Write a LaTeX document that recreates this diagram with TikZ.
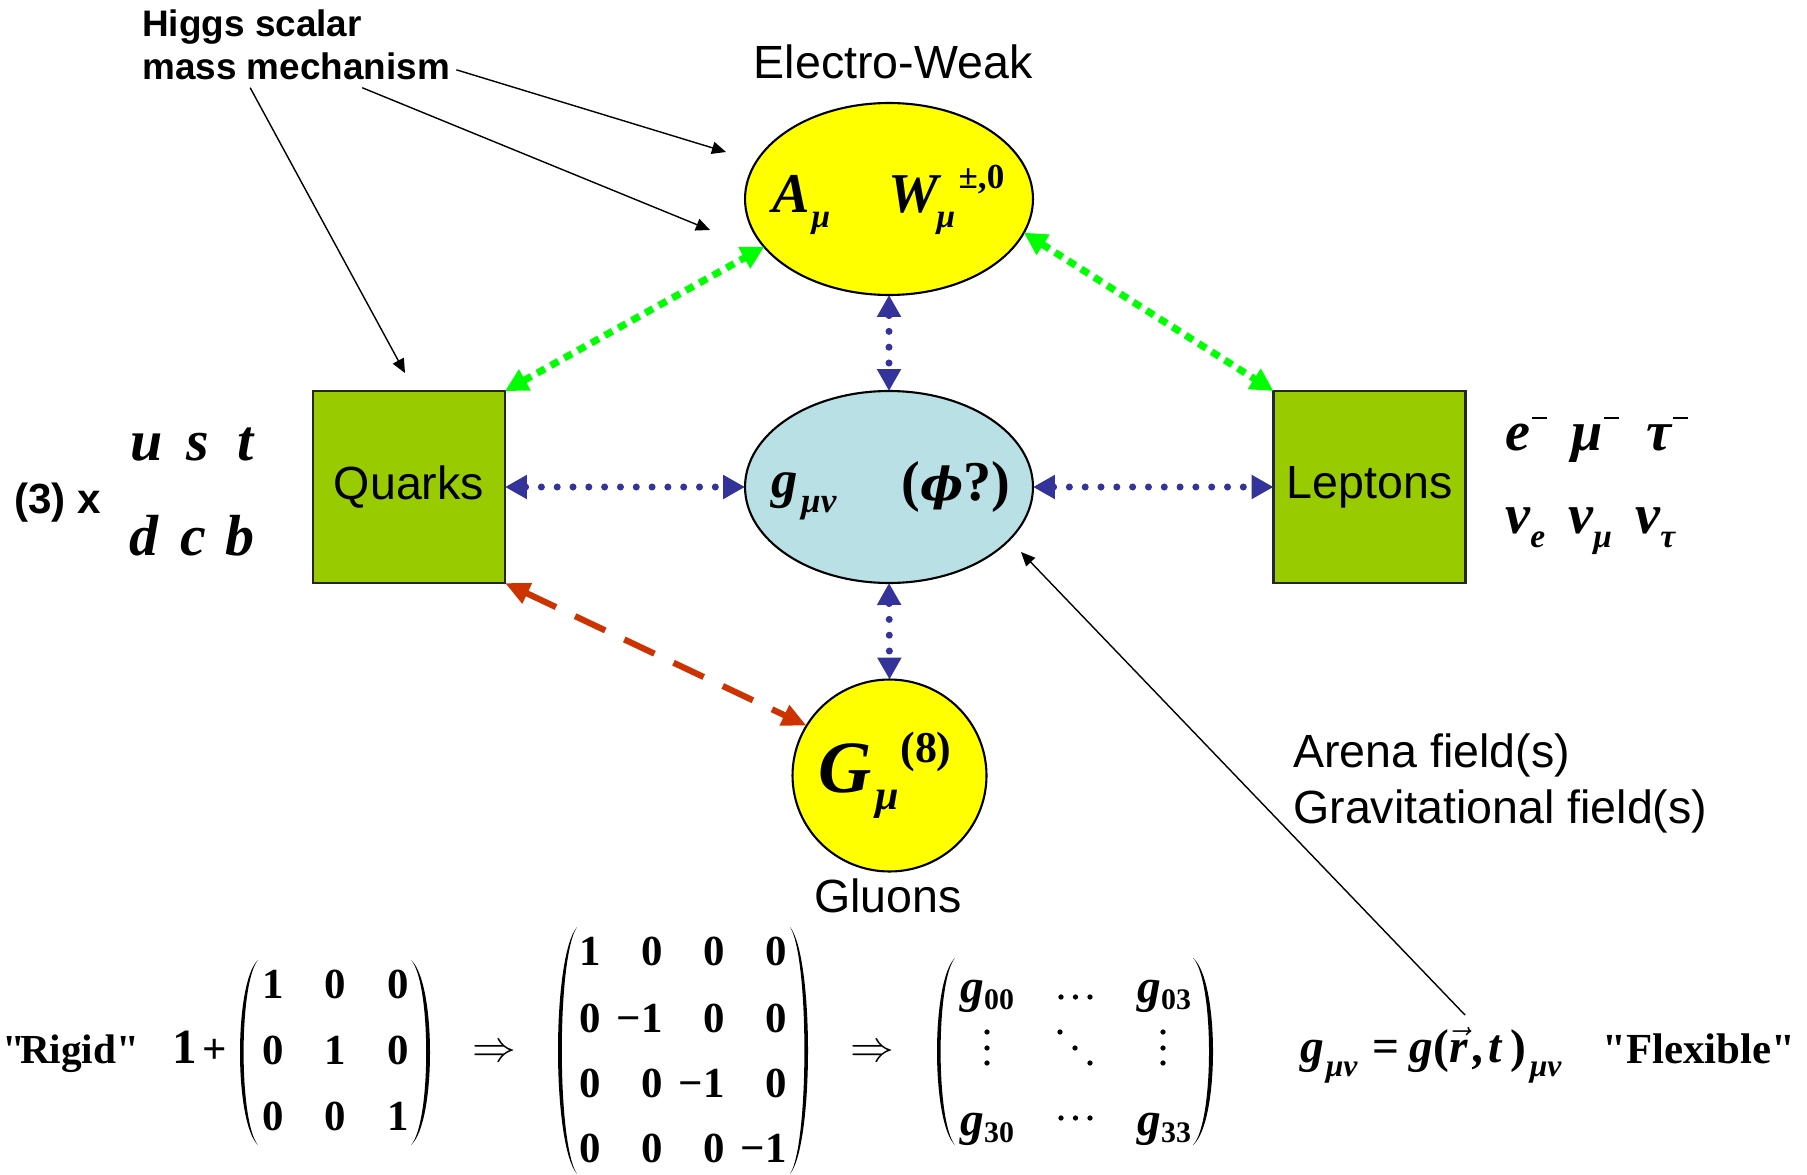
\documentclass[tikz,border=0pt]{standalone}
\usepackage{fontspec}
\setmainfont{Liberation Sans}
\newfontfamily\tms{Liberation Serif}
\newfontfamily\dvs{DejaVu Serif}
\usetikzlibrary{arrows.meta,shapes.geometric,calc}

\definecolor{ewyellow}{HTML}{FFFF00}
\definecolor{metricblue}{HTML}{B9E0E4}
\definecolor{boxgreen}{HTML}{99CC00}
\definecolor{linkblue}{HTML}{333399}
\definecolor{linkgreen}{HTML}{00FF00}
\definecolor{linkred}{HTML}{CC3300}

\newcommand\fs[1]{\fontsize{#1}{#1}\selectfont}
\newcommand\bi{\tms\bfseries\itshape}
\newcommand\lo[3][19]{\raisebox{-#2}{\fs{#1}#3}}
\newcommand\hi[3][19]{\raisebox{#2}{\fs{#1}#3}}
\newcommand\chargeminus{\kern1pt\raisebox{17.5pt}{\rule{8.5pt}{1.4pt}}}
% parentesis grande: punta x, x exterior, y arriba, y abajo
\newcommand\bigparen[4]{%
  \pgfmathsetmacro\pcA{#1+4/3*(#2-#1)}%
  \pgfmathsetmacro\pcB{#1+0.8*4/3*(#2-#1)}%
  \pgfmathsetmacro\pyA{#3+0.12*(#4-#3)}%
  \pgfmathsetmacro\pyB{#4-0.12*(#4-#3)}%
  \fill (#1,#3) .. controls (\pcA,\pyA) and (\pcA,\pyB) .. (#1,#4)
    .. controls (\pcB,\pyB) and (\pcB,\pyA) .. cycle;}

\tikzset{
  field/.style={ellipse, draw, line width=1.2pt, inner sep=0pt, outer sep=0pt,
    minimum width=5.76cm, minimum height=3.84cm},
  family/.style={rectangle, draw=black!85, line width=1.2pt, fill=boxgreen,
    minimum width=3.84cm, minimum height=3.84cm, inner sep=0pt, outer sep=0pt,
    font=\fs{26.5}},
  txt/.style={inner sep=0pt, font=\fs{26.5}},
  sym/.style={inner sep=0pt, font=\bi\fs{32}},
  num/.style={inner sep=0pt, font=\tms\bfseries\fs{24.4}},
  dotlink/.style={draw=linkblue, line width=4pt, line cap=round,
    dash pattern=on 0pt off 9pt, >={Triangle[width=13pt,length=12.5pt]}, <->},
  greenlink/.style={draw=linkgreen, line width=4pt,
    dash pattern=on 5pt off 3.8pt, >={Triangle[width=13pt,length=13pt]}, <->},
  redlink/.style={draw=linkred, line width=3.5pt,
    dash pattern=on 19pt off 12pt, >={Triangle[width=12pt,length=14pt]}, <->},
  pointer/.style={line width=0.8pt, -{Triangle[width=7pt,length=8pt]}}
}

\begin{document}
\begin{tikzpicture}[x=0.02cm, y=-0.02cm]
  \useasboundingbox (0,0) rectangle (1807,1175);
  % los campos
  \node[field, fill=ewyellow] (ew) at (889,199) {};
  \node[field, fill=metricblue] (metric) at (889,487) {};
  \node[field, fill=ewyellow, minimum width=3.88cm] (gluon) at (889.5,775.5) {};
  \node[family] (quarks) at (409,487) {Quarks};
  \node[family] (leptons) at (1369.5,487) {Leptons};
  \node[txt, anchor=base] (ewname) at (893,79) {Electro-Weak};
  \node[txt, anchor=base] (gluname) at (888,912) {Gluons};
  \node[sym, anchor=base west] (ewA) at (772,213) {A\kern1pt\lo{8.5pt}{μ}};
  \node[sym, anchor=base west] (ewW) at (888,213)
    {W\kern-1pt\lo{8.5pt}{μ}\kern2pt\hi[20]{14pt}{\tms\bfseries\upshape ±,0}};
  \node[sym, font=\bi\fs{30}, anchor=base west] (gsym) at (771,497)
    {g\kern2pt\lo[20]{9pt}{μν}};
  \node[sym, anchor=base west] (phisym) at (901,500)
    {{\upshape(}{\dvs\bfseries\itshape\fs{26}ϕ}{\upshape?)}};
  \node[sym, font=\bi\fs{42}, anchor=base west] (Gsym) at (818,792)
    {G\kern2pt\lo[24]{10pt}{μ}\kern1pt\hi[25]{17pt}{\tms\bfseries\upshape(8)}};
  % quarks y leptones
  \node[txt, font=\bfseries\fs{24}, anchor=base west] (colours) at (14,513) {(3) x};
  \foreach \q/\x in {u/130,s/186,t/237}
    \node[sym, font=\bi\fs{33}, anchor=base west] (q\q) at (\x,460) {\q};
  \foreach \q/\x in {d/129,c/180,b/225}
    \node[sym, font=\bi\fs{33}, anchor=base west] (q\q) at (\x,555) {\q};
  \foreach \l/\n/\x in {e/e/1505,μ/mu/1571,τ/tau/1646}
    \node[sym, anchor=base west] (ch\n) at (\x,450) {\l\chargeminus};
  \foreach \l/\n/\x in {e/e/1505,μ/mu/1568,τ/tau/1635}
    \node[sym, anchor=base west] (nu\n) at (\x,533) {ν\lo{8.5pt}{\l}};
  % las flechas
  \draw[dotlink] (ew.south) -- (metric.north);
  \draw[dotlink] (metric.south) -- (gluon.north);
  \draw[dotlink] (quarks.east) -- (metric.west);
  \draw[dotlink] (metric.east) -- (leptons.west);
  \draw[greenlink] (quarks.north east) -- (ew.201);
  \draw[greenlink] (ew.-14) -- (leptons.north west);
  \draw[redlink] (quarks.south east) -- (gluon.149);
  % higgs
  \node[txt, font=\bfseries\fs{21}, anchor=base west] (higgs) at (142,37) {Higgs scalar};
  \node[txt, font=\bfseries\fs{21}, anchor=base west] (mass) at (142,80) {mass mechanism};
  \coordinate (ewtipA) at (726,152);
  \coordinate (ewtipB) at (710,230);
  \coordinate (quarktip) at (405,373);
  \draw[pointer] ($(mass.east)+(6,3)$) -- (ewtipA);
  \draw[pointer] ($(mass.south)+(66,7)$) -- (ewtipB);
  \draw[pointer] ($(mass.south)+(-46,7)$) -- (quarktip);
  % campo arena
  \node[txt, anchor=base west] (arena) at (1293,767) {Arena field(s)};
  \node[txt, anchor=base west] (gravity) at (1293,823) {Gravitational field(s)};
  \coordinate (rlink) at (1465,1015);
  \coordinate (metrictip) at (1021,552);
  \draw[pointer] (rlink) -- (metrictip);
  % la metrica rigida
  \node[num, font=\tms\bfseries\fs{23.5}, anchor=base west] (rigid) at (2,1063)
    {"\kern-3pt Rigid"};
  \node[num, font=\tms\bfseries\fs{28}, anchor=base west] (unit) at (172,1063) {1};
  \node[num, anchor=base] (plus) at (215,1063) {+};
  \bigparen{258}{240}{960}{1145}
  \bigparen{411}{430}{960}{1145}
  \foreach \r/\y in {0/998,1/1064,2/1130}
    \foreach \c/\x in {0/273,1/335,2/398} {
      \pgfmathtruncatemacro\cell{\r==\c}
      \node[num, anchor=base] (s\r\c) at (\x,\y) {\cell};
    }
  \node[inner sep=0pt, font=\fs{24.88}] (imp1) at (494,1053) {$\Rightarrow$};
  \bigparen{577}{558}{927}{1174}
  \bigparen{790}{808}{927}{1174}
  \foreach \r/\y in {0/965,1/1032,2/1097,3/1162}
    \foreach \c/\x in {0/590,1/652,2/714,3/776} {
      \ifnum\r=\c \ifnum\r=0 \def\cell{1}\else\def\cell{−1}\fi \else\def\cell{0}\fi
      \node[num, anchor=base east] (m\r\c) at (\x+11,\y) {\cell};
    }
  \node[inner sep=0pt, font=\fs{24.88}] (imp2) at (872,1053) {$\Rightarrow$};
  % la metrica flexible
  \bigparen{955}{937}{958}{1145}
  \bigparen{1193}{1213}{958}{1145}
  \foreach \i/\x/\y in {00/960/1002,03/1137/1002,30/960/1135,33/1137/1135}
    \node[sym, font=\bi\fs{27}, anchor=base west] (g\i) at (\x,\y)
      {g\lo[17]{4.5pt}{\upshape\i}};
  \foreach \x in {1061,1075.5,1090} {
    \fill (\x,997) circle (1.5pt);
    \fill (\x,1118) circle (1.5pt);
  }
  \foreach \y in {1032,1048,1063} {
    \fill (987,\y) circle (1.5pt);
    \fill (1163,\y) circle (1.5pt);
  }
  \foreach \x/\y in {1060/1032,1075/1048,1090/1063}
    \fill (\x,\y) circle (1.5pt);
  \node[sym, font=\bi\fs{27}, anchor=base west] (glhs) at (1300,1062)
    {g\kern1pt\lo[18]{8.5pt}{μν}};
  \node[sym, font=\bi\fs{27}, anchor=base west] (grhs) at (1372,1062)
    {{\upshape=}\kern6pt g{\upshape(}$\vec{\hbox{r}}$\kern3pt,\kern2pt t\kern5pt{\upshape)}\kern2pt\lo[18]{8.5pt}{μν}};
  \node[num, anchor=base west] (flexible) at (1602,1063) {"Flexible"};
\end{tikzpicture}
\end{document}
